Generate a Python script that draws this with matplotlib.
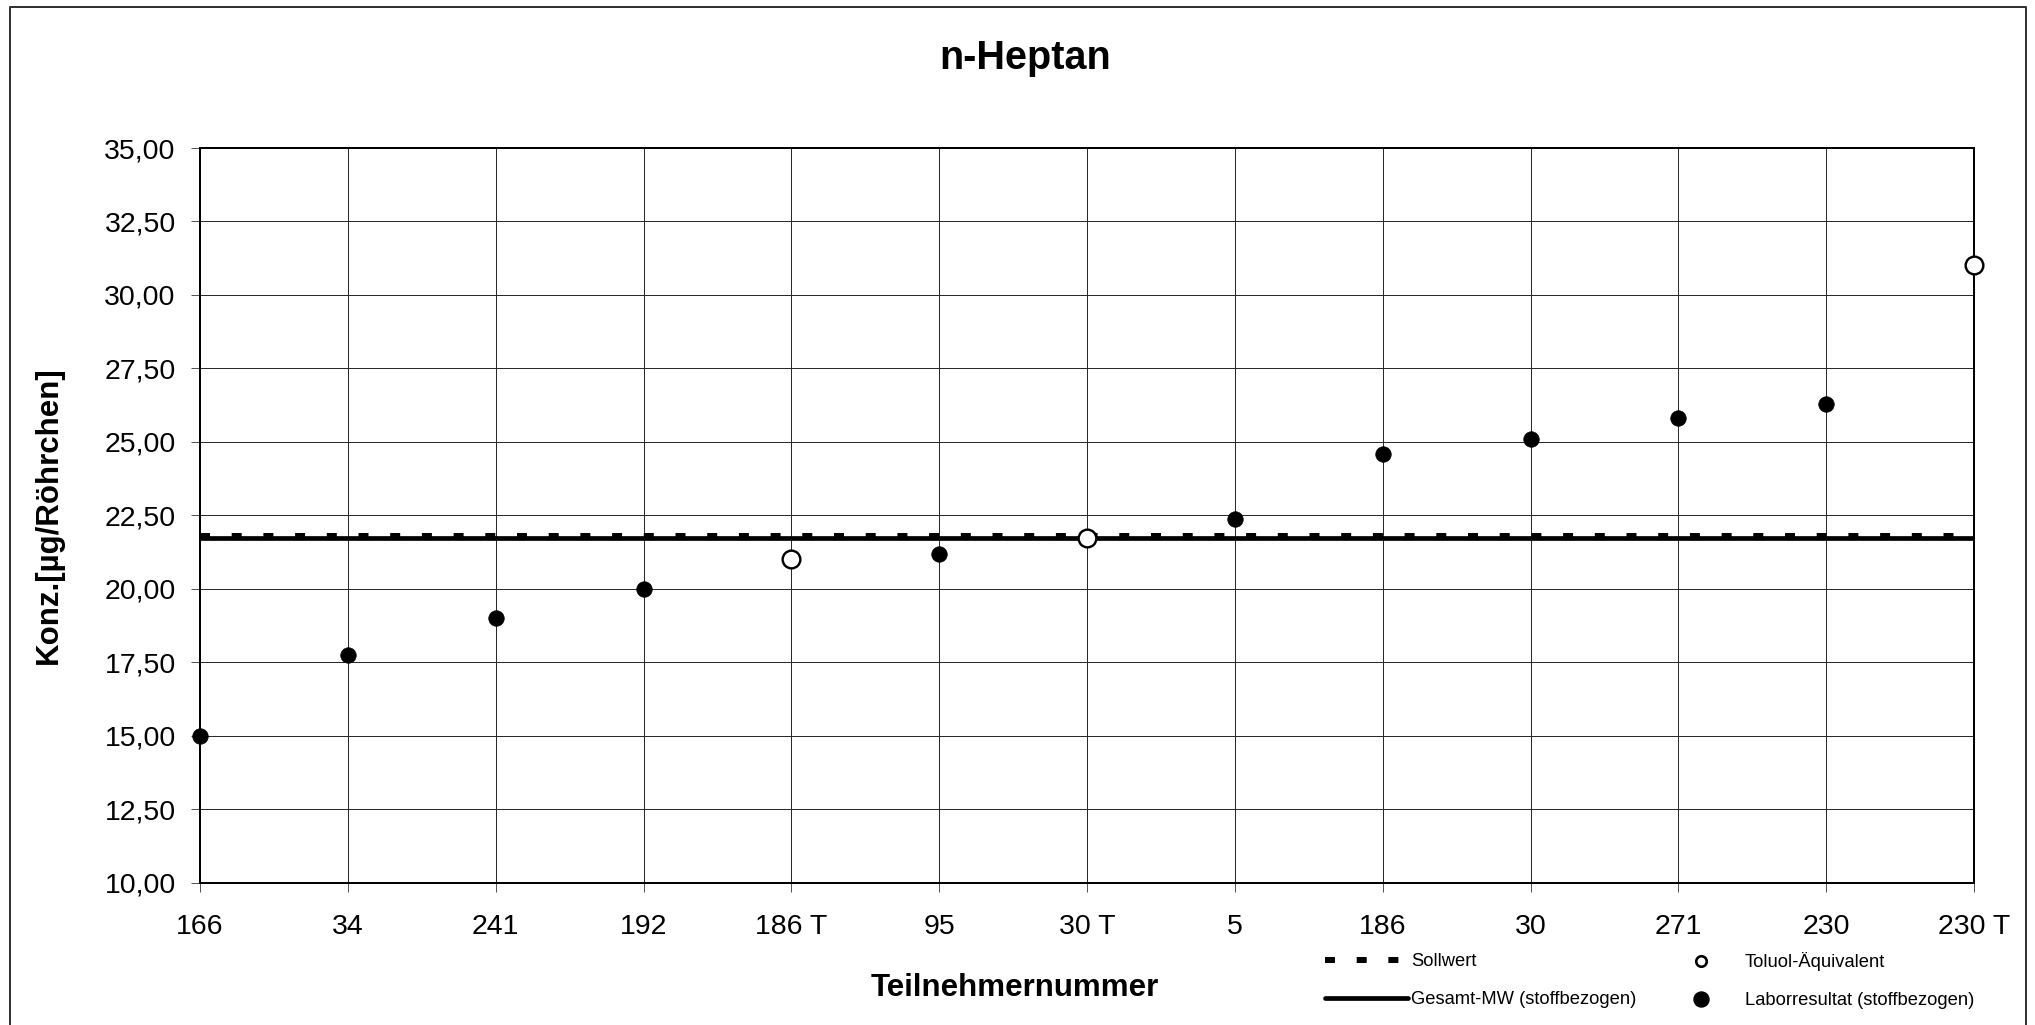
import numpy as np
import matplotlib
matplotlib.use("Agg")
import matplotlib.pyplot as plt
from matplotlib.lines import Line2D
from matplotlib.ticker import FuncFormatter, MultipleLocator

# ---------------- data ----------------
categories = ['166', '34', '241', '192', '186 T', '95', '30 T', '5',
              '186', '30', '271', '230', '230 T']
values = [15.00, 17.73, 19.00, 20.00, 21.00, 21.18, 21.71, 22.36,
          24.59, 25.10, 25.80, 26.27, 31.01]
toluol = [False, False, False, False, True, False, True, False,
          False, False, False, False, True]
sollwert = 21.80
gesamt_mw = 21.72

title = 'n-Heptan'
xlabel = 'Teilnehmernummer'
ylabel = 'Konz.[µg/Röhrchen]'
label_soll = 'Sollwert'
label_mw = 'Gesamt-MW (stoffbezogen)'
label_tol = 'Toluol-Äquivalent'
label_lab = 'Laborresultat (stoffbezogen)'

# ---------------- figure ----------------
W, H, DPI = 2035, 1025, 100
plt.rcParams['font.family'] = ['Liberation Sans', 'DejaVu Sans']
fig = plt.figure(figsize=(W / DPI, H / DPI), dpi=DPI)
px = 72.0 / DPI  # points per pixel

ax_l, ax_r, ax_t, ax_b = 200, 1974, 148, 882.5
ax = fig.add_axes([ax_l / W, 1 - ax_b / H, (ax_r - ax_l) / W, (ax_b - ax_t) / H])

x = np.arange(len(categories))
vals = np.array(values)
tol = np.array(toluol)

# grid
ax.set_axisbelow(True)
ax.grid(True, color='#2a2a2a', lw=1.0 * px, zorder=0)

# reference lines
ax.axhline(gesamt_mw, color='black', lw=4.7 * px, solid_capstyle='butt', zorder=3)
dash_lw = 6.0 * px
dash_pat = (0, (10 / 6.0, 21.7 / 6.0))
ax.axhline(sollwert, color='black', lw=dash_lw, zorder=3.5,
           linestyle=dash_pat, dash_capstyle='butt')

# points
ax.plot(x[~tol], vals[~tol], linestyle='none', marker='o', ms=15.5 * px,
        mfc='black', mec='black', mew=0.5, zorder=5, clip_on=False)
ax.plot(x[tol], vals[tol], linestyle='none', marker='o', ms=17.7 * px,
        mfc='white', mec='black', mew=2.4 * px, zorder=5, clip_on=False)

ax.set_xlim(0, len(categories) - 1)
ax.set_ylim(10, 35)
ax.set_xticks(x)
ax.set_xticklabels(categories)
ax.yaxis.set_major_locator(MultipleLocator(2.5))
ax.yaxis.set_major_formatter(FuncFormatter(lambda v, p: f'{v:.2f}'.replace('.', ',')))

ax.tick_params(axis='both', direction='out', length=9.3 * px, width=1.0 * px,
               color='#555555', labelsize=20.5, labelcolor='black')
ax.tick_params(axis='y', pad=15 * px)
ax.tick_params(axis='x', pad=22 * px)

for s in ax.spines.values():
    s.set_linewidth(2.0 * px)
    s.set_color('black')
    s.set_zorder(4)

# texts
fig.text(1025 / W, 1 - 69 / H, title, ha='center', va='baseline',
         fontsize=28.5, fontweight='bold')
fig.text(1015 / W, 1 - 988 / H, xlabel, ha='center', va='center',
         fontsize=22.5, fontweight='bold')
fig.text(49 / W, 1 - 515 / H, ylabel, ha='center', va='center', rotation=90,
         fontsize=22.5, fontweight='bold')

# legends
leg_fs = 13.2
fs_px = leg_fs / px
hl = 83 / fs_px
htp = 3 / fs_px
ycen = 1 - 980.75 / H
lsp = 1.13

h_soll = Line2D([], [], color='black', lw=dash_lw, linestyle=dash_pat,
                dash_capstyle='butt')
h_mw = Line2D([], [], color='black', lw=4.7 * px, solid_capstyle='round')
leg1 = fig.legend([h_soll, h_mw], [label_soll, label_mw], loc='center left',
                  bbox_to_anchor=(1325 / W, ycen), frameon=False, fontsize=leg_fs,
                  handlelength=hl, handletextpad=htp, borderpad=0, borderaxespad=0,
                  labelspacing=lsp)

h_tol = Line2D([], [], linestyle='none', marker='o', ms=10.5 * px, mfc='white',
               mec='black', mew=2.6 * px)
h_lab = Line2D([], [], linestyle='none', marker='o', ms=15 * px, mfc='black',
               mec='black')
leg2 = fig.legend([h_tol, h_lab], [label_tol, label_lab], loc='center left',
                  bbox_to_anchor=(1659 / W, ycen), frameon=False, fontsize=leg_fs,
                  handlelength=hl, handletextpad=htp, borderpad=0, borderaxespad=0,
                  labelspacing=lsp)

# outer chart frame (no bottom edge visible)
fx0, fx1, fy0 = 10 / W, 2026 / W, 1 - 6.7 / H
frame = Line2D([fx0, fx0, fx1, fx1], [0, fy0, fy0, 0], transform=fig.transFigure,
               color='#333333', lw=2.0 * px)
fig.add_artist(frame)

fig.savefig('out.png', dpi=DPI)
